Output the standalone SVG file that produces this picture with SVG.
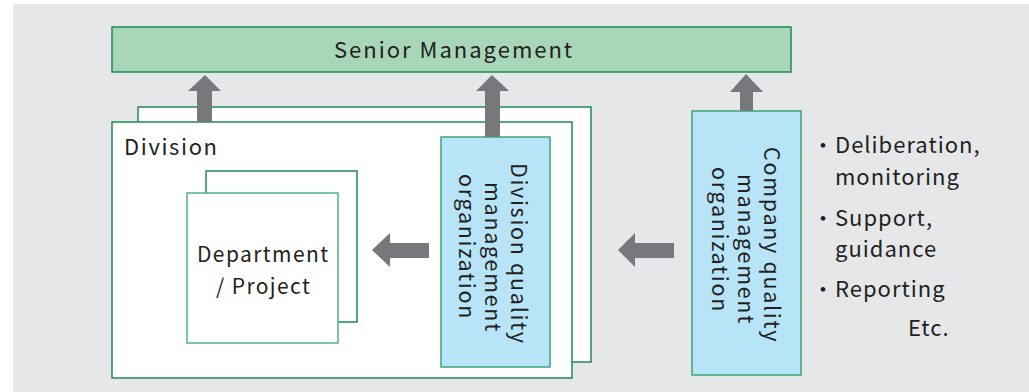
<svg xmlns="http://www.w3.org/2000/svg" width="1029" height="392" viewBox="0 0 1029 392">
  <defs>
    <style>
      .bg { fill: #e6e7e9; }
      .mgmt { fill: #a8d6b9; stroke: #1e8a52; stroke-width: 1.5; }
      .panel { fill: #ffffff; stroke: #1e8a52; stroke-width: 1.5; }
      .panel-lt { fill: #ffffff; stroke: #4fb384; stroke-width: 1.5; }
      .qbox { fill: #b8e4f8; stroke: #3aa777; stroke-width: 1.5; }
      .arrow { fill: #77787b; }
      .t { font-family: "Noto Sans CJK JP", "Noto Sans", sans-serif; fill: #231f20; }
    </style>
  </defs>

  <rect class="bg" x="13" y="4" width="1016" height="388"/>

  <!-- top level -->
  <g id="senior-management">
    <rect class="mgmt" x="112" y="27" width="679" height="45"/>
    <text class="t" x="334" y="58" font-size="22" letter-spacing="2">Senior Management</text>
  </g>

  <!-- division stack -->
  <g id="division">
    <rect class="panel" x="138" y="107" width="453" height="255"/>
    <rect class="panel" x="112" y="122" width="460" height="256"/>
    <text class="t" x="124" y="155" font-size="22" letter-spacing="1.6">Division</text>
  </g>

  <g id="department-project">
    <rect class="panel" x="206" y="171" width="151" height="151"/>
    <rect class="panel-lt" x="187" y="193" width="151" height="150"/>
    <text class="t" font-size="21" letter-spacing="1.4">
      <tspan x="197" y="262">Department</tspan>
      <tspan x="216" y="294">/ Project</tspan>
    </text>
  </g>

  <g id="division-qm">
    <rect class="qbox" x="441" y="137" width="109" height="230"/>
    <text class="t" font-size="21.5" letter-spacing="1.7" transform="translate(0,163) rotate(90)">
      <tspan x="0" y="-511">Division quality</tspan>
      <tspan x="19" y="-485">management</tspan>
      <tspan x="11" y="-459">organization</tspan>
    </text>
  </g>

  <g id="company-qm">
    <rect class="qbox" x="692" y="111" width="109" height="264"/>
    <text class="t" font-size="21.5" letter-spacing="1.7" transform="translate(0,147) rotate(90)">
      <tspan x="0" y="-764">Company quality</tspan>
      <tspan x="27" y="-738">management</tspan>
      <tspan x="20" y="-712">organization</tspan>
    </text>
  </g>

  <g id="roles">
    <text class="t" font-size="22" letter-spacing="1">
      <tspan x="812" y="153">・</tspan>
      <tspan x="835" y="153">Deliberation,</tspan>
      <tspan x="835" y="185">monitoring</tspan>
      <tspan x="812" y="226">・</tspan>
      <tspan x="835" y="226">Support,</tspan>
      <tspan x="835" y="257">guidance</tspan>
      <tspan x="812" y="297">・</tspan>
      <tspan x="835" y="297">Reporting</tspan>
      <tspan x="908" y="336">Etc.</tspan>
    </text>
  </g>

  <!-- block arrows -->
  <g id="connectors">
    <polygon class="arrow" points="197,122 197,91 188,91 205,75 221,91 212,91 212,122"/>
    <polygon class="arrow" points="485,137 485,91 476,91 492,75 509,91 500,91 500,137"/>
    <polygon class="arrow" points="740,111 740,92 730,92 746,74 763,92 753,92 753,111"/>
    <polygon class="arrow" points="429,243 390,243 390,233 372,250 390,267 390,258 429,258"/>
    <polygon class="arrow" points="674,243 635,243 635,233 618,250 635,267 635,258 674,258"/>
  </g>
</svg>
